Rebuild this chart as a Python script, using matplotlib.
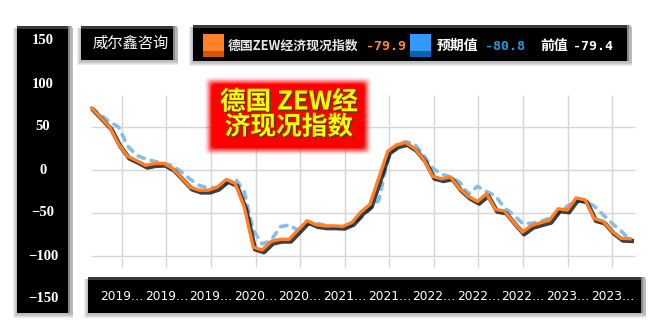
import numpy as np
import matplotlib
matplotlib.use("Agg")
import matplotlib.pyplot as plt
import matplotlib.patheffects as pe
import matplotlib.transforms as mtransforms
from matplotlib.patches import Rectangle, FancyBboxPatch

# ZEW current situation, monthly from 2018-10 to 2023-10
actual = [72, 61, 50, 30, 16, 11, 5.5, 7.5, 7.8, 2, -9, -20, -23.5, -23.5, -20, -11,
          -15.7, -43.1, -89.6, -93, -83, -80.6, -80.6, -69.8, -59, -63.5, -65, -65,
          -65.5, -61, -48.8, -40.1, -9.1, 21.9, 29.3, 31.9, 25, 12.5, -7.4, -10.2, -8.1,
          -21.4, -30.8, -36.5, -27.6, -45.8, -47.6, -60.5, -72.2, -64.5, -61.4, -58.6,
          -45.1, -46.5, -32.5, -34.8, -56.5, -59.5, -71.3, -79.4, -79.9]
forecast = [72, 64, 56, 50, 28, 17, 13, 10, 8, 5, -2, -11, -18, -21, -20, -16, -10, -25,
            -70, -86, -82, -66, -64, -70, -62, -62, -64, -66, -66, -64, -56, -46, -35, 12,
            30, 33, 30, 17, 2, -5, -8, -14, -28, -19, -25, -30, -44, -52, -62, -62, -60,
            -56, -50, -42, -36, -36, -42, -52, -62, -71, -80.8]
xlabels = ["2019…", "2019…", "2019…", "2020…", "2020…", "2021…", "2021…",
           "2022…", "2022…", "2022…", "2023…", "2023…"]
yticks = [150, 100, 50, 0, -50, -100, -150]
hgrid = [50, 0, -50, -100]
legend_name = "德国ZEW经济现况指数"
legend_vals = ["-79.9", "-80.8", "-79.4"]

W, H = 657, 325
CJK = ["Noto Sans CJK SC", "DejaVu Sans"]
orange = "#ff8027"
blue_line = "#86bdea"

fig = plt.figure(figsize=(W / 100, H / 100), dpi=100)
fig.patch.set_facecolor("white")


def box(x0, y0, x1, y1, color, z=1, alpha=1.0):
    fig.add_artist(Rectangle((x0 / W, 1 - y1 / H), (x1 - x0) / W, (y1 - y0) / H,
                             transform=fig.transFigure, facecolor=color,
                             edgecolor="none", zorder=z, alpha=alpha))


def dark_box(x0, y0, x1, y1):
    # soft shadow
    for k in range(1, 5):
        box(x0 - k, y0 + 2, x1 + 1, y1 + k + 1, "#000000", z=-3, alpha=0.07)
    box(x0, y0, x1, y1, "#000000", z=-2)
    box(x0, y0, x1, y0 + 3, "#3a3a3a", z=-2)
    box(x1 - 4, y0, x1, y1, "#8a8a8a", z=-2)
    box(x1 - 2, y0, x1, y1, "#b5b5b5", z=-2)


dark_box(17, 26, 72, 313)
dark_box(81, 26, 177, 60)
dark_box(193, 25, 631, 61)
dark_box(88, 277, 645, 313)

# main axes: index -> pixels, value -> pixels
ax = fig.add_axes([80 / W, 1 - 275 / H, 565 / W, 185 / H])
ax.patch.set_visible(False)
for s in ax.spines.values():
    s.set_visible(False)
ax.set_xlim((80 - 91.7) / 8.972, (645 - 91.7) / 8.972)
ax.set_ylim((170 - 275) * 50 / 43, (170 - 90) * 50 / 43)

x = np.arange(len(actual))
gridpos = [3.35 + 4.97 * k for k in range(len(xlabels))]
ax.vlines(gridpos, -112.8, 87.2, color="#d6d6d6", lw=1, zorder=1)
ax.hlines(hgrid, -0.1, 60.5, color="#d6d6d6", lw=1, zorder=1)

ax.plot(x, forecast, color=blue_line, lw=2.6, dashes=(1.8, 2.0),
        dash_capstyle="round", zorder=2)
ax.plot(x, actual, color=orange, lw=2.4, zorder=3, solid_joinstyle="round",
        path_effects=[pe.SimpleLineShadow(offset=(1.3, -1.6), shadow_color="black",
                                          alpha=0.75, linewidth=3.2),
                      pe.Normal()])

ax.set_xticks(gridpos, xlabels)
ax.tick_params(axis="x", length=0, pad=11, colors="white", labelsize=8.8)
ax.set_yticks([])

# y labels in the black panel
trans = mtransforms.blended_transform_factory(fig.transFigure, ax.transData)
for v in yticks:
    ax.text(43 / W, v, str(v).replace("-", "−"), transform=trans, ha="center",
            va="center", color="white", fontsize=10.5, fontweight="bold",
            family="Liberation Serif", clip_on=False)

# top-left source box
fig.text(131 / W, 1 - 43 / H, "威尔鑫咨询", ha="center", va="center", color="white",
         fontsize=11, family=CJK)

# legend
box(203, 34, 224, 57, orange, z=1)
box(203, 51, 224, 57, "#d05800", z=1)
box(410, 34, 431, 57, "#3399ff", z=1)
box(410, 51, 431, 57, "#0a62b0", z=1)
ly = 1 - 46 / H
fig.text(228 / W, ly, legend_name, ha="left", va="center", color="#e6e6e6",
         fontsize=9.3, fontweight="bold", family=CJK)
fig.text(366 / W, ly, legend_vals[0], ha="left", va="center", color="#ff8a2a",
         fontsize=9.5, fontweight="bold", family="DejaVu Sans Mono")
fig.text(437 / W, ly, "预期值", ha="left", va="center", color="white",
         fontsize=10, fontweight="bold", family=CJK)
fig.text(485 / W, ly, legend_vals[1], ha="left", va="center", color="#1a9be3",
         fontsize=9.5, fontweight="bold", family="DejaVu Sans Mono")
fig.text(540 / W, ly, "前值", ha="left", va="center", color="white",
         fontsize=10, fontweight="bold", family=CJK)
fig.text(573 / W, ly, legend_vals[2], ha="left", va="center", color="white",
         fontsize=9.5, fontweight="bold", family="DejaVu Sans Mono")

# red title badge
bx0, by0, bx1, by1 = 218, 87, 358, 145
for k, a in [(6, 0.15), (4, 0.3), (2, 0.55)]:
    fig.add_artist(FancyBboxPatch(((bx0 - k) / W, 1 - (by1 + k) / H),
                                  (bx1 - bx0 + 2 * k) / W, (by1 - by0 + 2 * k) / H,
                                  boxstyle="round,pad=0.01", transform=fig.transFigure,
                                  facecolor="#ff0000", edgecolor="none", alpha=a, zorder=4))
fig.add_artist(FancyBboxPatch((bx0 / W, 1 - by1 / H), (bx1 - bx0) / W, (by1 - by0) / H,
                              boxstyle="round,pad=0.01", transform=fig.transFigure,
                              facecolor="#ff0000", edgecolor="none", zorder=4))
title_fx = [pe.SimplePatchShadow(offset=(1.2, -1.2), shadow_rgbFace="#5a3a00", alpha=0.9),
            pe.Normal()]
fig.text(289 / W, 1 - 102 / H, "德国 ZEW经", ha="center", va="center", color="#ffff00",
         fontsize=18.5, fontweight="bold", family=CJK, zorder=5, path_effects=title_fx)
fig.text(289 / W, 1 - 127 / H, "济现况指数", ha="center", va="center", color="#ffff00",
         fontsize=18.5, fontweight="bold", family=CJK, zorder=5, path_effects=title_fx)

fig.savefig("out.png", dpi=100)
